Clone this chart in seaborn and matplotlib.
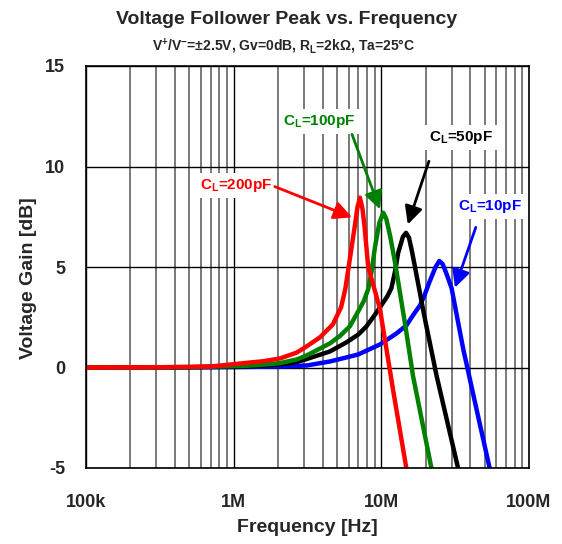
import matplotlib
matplotlib.use('Agg')
import matplotlib.pyplot as plt
from matplotlib.ticker import LogLocator, NullFormatter
import seaborn as sns
import pandas as pd

# curves (frequency in Hz, gain in dB)
f_200p = [1e5, 3e5, 7e5, 1.22e6, 1.58e6, 2.06e6, 2.67e6, 3.12e6, 3.84e6, 4.49e6, 4.7e6,
          5.34e6, 5.7e6, 6.12e6, 6.6e6, 6.9e6, 7.16e6, 7.45e6, 7.7e6, 8.15e6, 9.8e6,
          10.3e6, 12.0e6, 14.8e6]
g_200p = [0, 0.01, 0.05, 0.23, 0.31, 0.45, 0.74, 1.05, 1.5, 2.0, 2.15,
          3.0, 3.9, 5.4, 7.0, 8.0, 8.45, 7.9, 7.0, 5.0, 2.9,
          1.9, -1.1, -5.05]

f_100p = [1e5, 5e5, 1.2e6, 1.58e6, 2.06e6, 2.67e6, 3.12e6, 4.49e6, 5.3e6, 6.12e6,
          6.98e6, 7.6e6, 8.15e6, 8.6e6, 9.06e6, 9.7e6, 10.3e6, 10.8e6, 11.5e6, 12.4e6,
          14.6e6, 16.4e6, 21.9e6]
g_100p = [0, 0.02, 0.08, 0.14, 0.22, 0.4, 0.6, 1.2, 1.6, 2.05,
          2.8, 3.3, 3.9, 4.8, 6.0, 7.2, 7.7, 7.4, 6.5, 5.2,
          2.0, -0.43, -5.05]

f_50p = [1e5, 5e5, 1.2e6, 2.06e6, 2.67e6, 3.12e6, 4.49e6, 5.8e6, 6.98e6, 7.94e6,
         9.0e6, 9.8e6, 11.0e6, 11.7e6, 12.4e6, 13.0e6, 14.0e6, 14.7e6, 15.4e6, 16.2e6,
         16.9e6, 19.5e6, 23.7e6, 33.2e6]
g_50p = [0, 0.01, 0.05, 0.15, 0.27, 0.42, 0.8, 1.25, 1.64, 2.05,
         2.6, 3.0, 3.55, 3.95, 4.8, 5.7, 6.5, 6.7, 6.45, 5.7,
         5.0, 2.6, -0.43, -5.05]

f_10p = [1e5, 1e6, 2.06e6, 3.12e6, 4.49e6, 5.8e6, 6.98e6, 9.8e6, 12.7e6, 14.8e6,
         16.4e6, 18.3e6, 19.5e6, 21.3e6, 23.3e6, 24.7e6, 26.0e6, 27.5e6, 29.9e6, 35.9e6,
         44.2e6, 54.3e6]
g_10p = [0, 0.02, 0.05, 0.1, 0.3, 0.5, 0.65, 1.15, 1.7, 2.1,
         2.6, 3.1, 3.55, 4.3, 5.0, 5.3, 5.15, 4.7, 3.95, 0.9,
         -2.1, -5.05]

x_ticks = [1e5, 1e6, 1e7, 1e8]
x_labels = ['100k', '1M', '10M', '100M']
y_ticks = [-5, 0, 5, 10, 15]

# drawing order: red ends up on top
series = {'10pF': (f_10p, g_10p), '50pF': (f_50p, g_50p),
          '100pF': (f_100p, g_100p), '200pF': (f_200p, g_200p)}
df = pd.concat([pd.DataFrame({'freq': f, 'gain': g, 'CL': k}) for k, (f, g) in series.items()])
colors = {'200pF': '#ff0000', '100pF': '#008000', '50pF': '#000000', '10pF': '#0000ff'}

sns.set_style('white')
plt.rcParams['font.family'] = ['Liberation Sans', 'DejaVu Sans']
plt.rcParams['font.weight'] = 'bold'
plt.rcParams['mathtext.fontset'] = 'custom'
plt.rcParams['mathtext.rm'] = 'Liberation Sans:bold'
plt.rcParams['mathtext.default'] = 'regular'
plt.rcParams['axes.unicode_minus'] = False

fig = plt.figure(figsize=(5.62, 5.44), dpi=100)
ax = fig.add_axes([86 / 562, 76 / 544, 443 / 562, 402 / 544])

ax.set_xscale('log')
ax.xaxis.set_minor_locator(LogLocator(base=10, subs=range(2, 10)))
ax.xaxis.set_minor_formatter(NullFormatter())
ax.set_xticks(x_ticks)
ax.set_xticklabels(x_labels)
ax.set_yticks(y_ticks)
ax.set_xlim(1e5, 1e8)
ax.set_ylim(-5, 15)
ax.grid(which='minor', axis='x', color='#555555', lw=1.1)
ax.grid(which='major', axis='x', color='black', lw=1.0)
ax.grid(which='major', axis='y', color='black', lw=1.0)
ax.tick_params(which='both', length=0)
ax.tick_params(axis='y', pad=15, labelsize=13)
ax.tick_params(axis='x', pad=19, labelsize=13)
for s in ax.spines.values():
    s.set_color('black')
    s.set_linewidth(1.2)

sns.lineplot(data=df, x='freq', y='gain', hue='CL', palette=colors, lw=3.2,
             legend=False, ax=ax, estimator=None, sort=False)

ax.set_xlabel('Frequency [Hz]', fontsize=14, fontweight='bold')
ax.set_ylabel('Voltage Gain [dB]', fontsize=14, fontweight='bold')
ax.xaxis.set_label_coords(0.5, -0.128)
ax.yaxis.set_label_coords(-0.11, 0.473)

fig.text(287 / 562, 1 - 20 / 544, 'Voltage Follower Peak vs. Frequency', ha='center', va='center',
         fontsize=14, fontweight='bold')
fig.text(284 / 562, 1 - 46 / 544, 'V$^{+}$/V$^{-}$=±2.5V, Gv=0dB, R$_{L}$=2kΩ, Ta=25°C',
         ha='center', va='center', fontsize=10, fontweight='bold')

# labels: (text centre, arrow start, arrow tip) in data coordinates
notes = [('200pF', (1.04e6, 9.06), (1.90e6, 9.0), (6.33e6, 7.47)),
         ('100pF', (3.78e6, 12.25), (6.33e6, 11.6), (9.78e6, 7.87)),
         ('50pF', (3.46e7, 11.45), (2.10e7, 10.26), (1.51e7, 7.12)),
         ('10pF', (5.43e7, 8.02), (4.36e7, 6.97), (3.15e7, 3.97))]
for k, txt_pos, start, tip in notes:
    ax.text(*txt_pos, 'C$_{L}$=' + k, ha='center', va='center',
            fontsize=11, fontweight='bold', color=colors[k], zorder=4,
            bbox=dict(boxstyle='square,pad=0.25', fc='white', ec='none'))
    ax.annotate('', xy=tip, xytext=start, zorder=5,
                arrowprops=dict(arrowstyle='-|>', color=colors[k], lw=2.0,
                                mutation_scale=27, shrinkA=0, shrinkB=0))

fig.savefig('out.png', dpi=100)
